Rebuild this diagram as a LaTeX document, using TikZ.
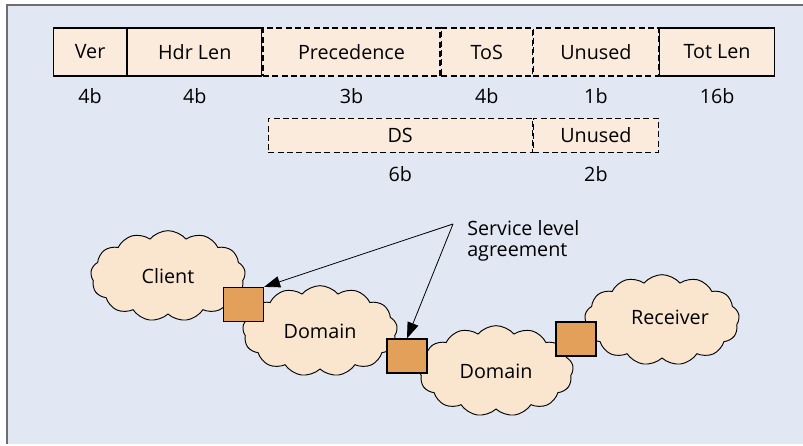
\documentclass[tikz,border=0pt]{standalone}
\usepackage{fontspec}
\setmainfont{Open Sans}
\usetikzlibrary{positioning, shapes.symbols, arrows.meta}

\definecolor{panelbg}{HTML}{E1E8F3}
\definecolor{framegray}{HTML}{6E6E6E}
\definecolor{fieldfill}{HTML}{FBEBDC}
\definecolor{cloudfill}{HTML}{FAE5CF}
\definecolor{gatefill}{HTML}{E3A05A}

\begin{document}
\begin{tikzpicture}[x=0.75pt, y=-0.75pt, >={Triangle[length=12pt, width=8.5pt]},
  font=\fontsize{14.8}{15.75}\selectfont,
  sfield/.style={draw, line width=0.9pt, fill=fieldfill, minimum height=36pt, inner sep=0pt, anchor=west},
  dfield/.style={sfield, dash pattern=on 4.5pt off 2.5pt},
  bits/.style={inner sep=0pt},
  cloudy/.style={cloud, cloud puffs=13, cloud puff arc=100, draw, line width=0.7pt, fill=cloudfill, inner sep=0pt, minimum width=116pt, minimum height=68pt},
  gate/.style={draw, line width=0.9pt, fill=gatefill, minimum width=30pt, minimum height=25.5pt, inner sep=0pt}]
\useasboundingbox (0,0) rectangle (803,446);
\fill[panelbg] (7,5) rectangle (803,444);
\draw[framegray, line width=1.5pt] (6.5,444) -- (6.5,4.5) -- (803,4.5);

% header fields
\node[sfield, minimum width=54.75pt] (ver) at (53,52) {Ver};
\node[sfield, minimum width=100.5pt, right=0pt of ver] (hdr) {Hdr Len};
\node[dfield, minimum width=132.75pt, right=0pt of hdr] (prec) {Precedence};
\node[dfield, minimum width=68.25pt, right=0pt of prec] (tos) {ToS};
\node[dfield, minimum width=93.75pt, right=0pt of tos] (unused) {Unused};
\node[sfield, minimum width=86.25pt, right=0pt of unused] (tot) {Tot Len};
\node[bits, below=9pt of ver] (verbits) {4b};
\node[bits, below=9pt of hdr] (hdrbits) {4b};
\node[bits, below=9pt of prec] (precbits) {3b};
\node[bits, below=9pt of tos] (tosbits) {4b};
\node[bits, below=9pt of unused] (unusedbits) {1b};
\node[bits, below=9pt of tot] (totbits) {16b};

% DS split
\node[dfield, minimum width=93.75pt, minimum height=25.5pt, below=30.75pt of unused] (unused2) {Unused};
\node[dfield, minimum width=198pt, minimum height=25.5pt, left=0pt of unused2] (ds) {DS};
\node[bits, below=10pt of ds] (dsbits) {6b};
\node[bits, below=10pt of unused2] (unused2bits) {2b};

% domains
\node[cloudy, label=center:Client] (client) at (168,276) {};
\node[cloudy, label=center:Domain] (dom1) at (320,331) {};
\node[cloudy, label=center:Domain] (dom2) at (496,371) {};
\node[cloudy, label={[xshift=6pt, yshift=2pt]center:Receiver}] (recv) at (662,320) {};
\node[gate] (gate1) at (243.5,304.5) {};
\node[gate] (gate2) at (407,356) {};
\node[gate] (gate3) at (576,339) {};

\node[align=left, anchor=north west, inner sep=0pt] (sla) at (467,220) {Service level\\agreement};
\coordinate (fork) at (453,224);
\draw[->, line width=0.6pt] (fork) -- (gate1.north east);
\draw[->, line width=0.6pt] (fork) -- (gate2.north);
\end{tikzpicture}
\end{document}
